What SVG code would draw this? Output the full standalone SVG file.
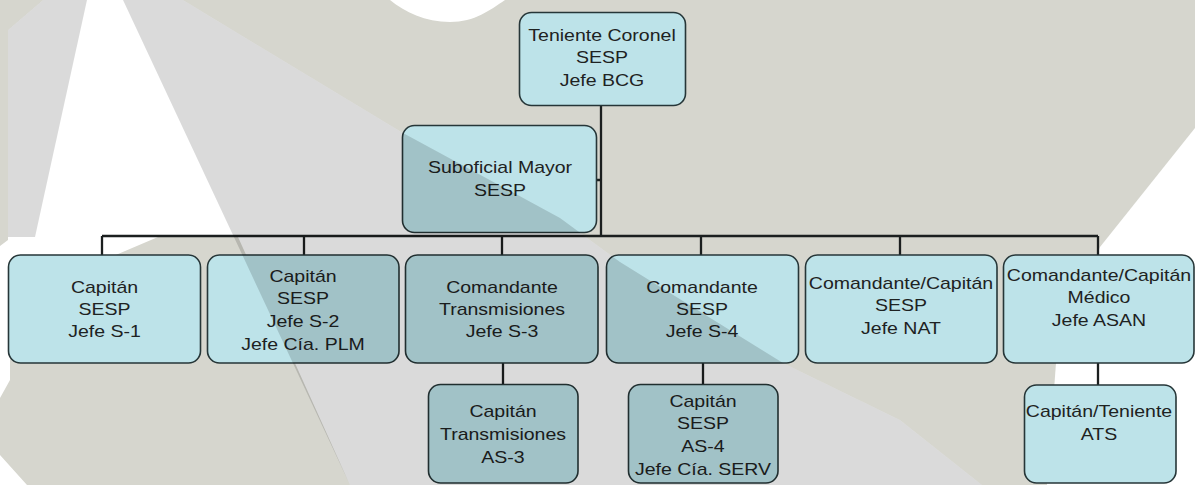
<svg xmlns="http://www.w3.org/2000/svg" width="1195" height="485" viewBox="0 0 1195 485">
<style>
.bx{fill:#bde3e9;stroke:#263638;stroke-width:1.6}
.t{font-family:"Liberation Sans",Arial,sans-serif;font-size:16px;text-anchor:middle;fill:#1e2222}
.cn{fill:none;stroke:#1b1f1f;stroke-width:2.3}
</style>
<g id="background">
<rect x="0" y="0" width="1195" height="485" fill="#d6d6ce"/>
<polygon fill="#ffffff" points="43,0 183,0 403,133 560,218 620,262 783,363 900,420 982,485 0,485 0,246 8,240 8,30"/>
<polygon fill="#d6d6ce" points="158,237 238,237 350,485 27,485 0,455 0,398 10,380 10,300"/>
<path fill="#ffffff" d="M390,0 C405,12 425,22 450,22 C475,22 490,10 505,0 Z"/>
<polygon fill="#ffffff" points="1195,128 1100,247 1056,363 1047,485 1195,485"/>
</g>
<g id="connectors">
<path class="cn" d="M601,105 V236 M597,180 H601 M102,236 H1098 M102,236 V255 M304,236 V255 M502,236 V255 M701,236 V255 M900,236 V255 M1098,236 V255 M503,363 V384 M703,363 V384 M1098,363 V385"/>
</g>
<g id="n-bcg">
<rect class="bx" x="519.5" y="12.5" width="166" height="93" rx="12"/>
<g transform="matrix(1.22 0 0 1 602 0)"><text class="t"><tspan x="0" y="41">Teniente Coronel</tspan><tspan x="0" y="63.5">SESP</tspan><tspan x="0" y="86">Jefe BCG</tspan></text></g>
</g>
<g id="n-suboficial">
<rect class="bx" x="402.5" y="125.5" width="194" height="107" rx="12"/>
<g transform="matrix(1.22 0 0 1 500 0)"><text class="t"><tspan x="0" y="173.5">Suboficial Mayor</tspan><tspan x="0" y="196.5">SESP</tspan></text></g>
</g>
<g id="n-s1">
<rect class="bx" x="8.5" y="255" width="192" height="108" rx="12"/>
<g transform="matrix(1.22 0 0 1 104.5 0)"><text class="t"><tspan x="0" y="293">Capitán</tspan><tspan x="0" y="315">SESP</tspan><tspan x="0" y="337">Jefe S-1</tspan></text></g>
</g>
<g id="n-s2">
<rect class="bx" x="207.5" y="255" width="191.5" height="108" rx="12"/>
<g transform="matrix(1.22 0 0 1 303 0)"><text class="t"><tspan x="0" y="282">Capitán</tspan><tspan x="0" y="304">SESP</tspan><tspan x="0" y="327">Jefe S-2</tspan><tspan x="0" y="350">Jefe Cía. PLM</tspan></text></g>
</g>
<g id="n-s3">
<rect class="bx" x="405.5" y="255" width="192.5" height="108" rx="12"/>
<g transform="matrix(1.22 0 0 1 502 0)"><text class="t"><tspan x="0" y="293">Comandante</tspan><tspan x="0" y="315">Transmisiones</tspan><tspan x="0" y="337">Jefe S-3</tspan></text></g>
</g>
<g id="n-s4">
<rect class="bx" x="606.5" y="255" width="192" height="108" rx="12"/>
<g transform="matrix(1.22 0 0 1 702 0)"><text class="t"><tspan x="0" y="293">Comandante</tspan><tspan x="0" y="315">SESP</tspan><tspan x="0" y="337">Jefe S-4</tspan></text></g>
</g>
<g id="n-nat">
<rect class="bx" x="805.5" y="255" width="191.5" height="108" rx="12"/>
<g transform="matrix(1.22 0 0 1 901 0)"><text class="t"><tspan x="0" y="289">Comandante/Capitán</tspan><tspan x="0" y="311.5">SESP</tspan><tspan x="0" y="334">Jefe NAT</tspan></text></g>
</g>
<g id="n-asan">
<rect class="bx" x="1003.5" y="255" width="190.5" height="108" rx="12"/>
<g transform="matrix(1.22 0 0 1 1099 0)"><text class="t"><tspan x="0" y="281">Comandante/Capitán</tspan><tspan x="0" y="303">Médico</tspan><tspan x="0" y="326">Jefe ASAN</tspan></text></g>
</g>
<g id="n-as3">
<rect class="bx" x="428.5" y="384.5" width="149.5" height="98.5" rx="12"/>
<g transform="matrix(1.22 0 0 1 503 0)"><text class="t"><tspan x="0" y="417.5">Capitán</tspan><tspan x="0" y="440.5">Transmisiones</tspan><tspan x="0" y="463.5">AS-3</tspan></text></g>
</g>
<g id="n-as4">
<rect class="bx" x="628.5" y="384.5" width="149.5" height="98.5" rx="12"/>
<g transform="matrix(1.22 0 0 1 703 0)"><text class="t"><tspan x="0" y="407">Capitán</tspan><tspan x="0" y="429">SESP</tspan><tspan x="0" y="452">AS-4</tspan><tspan x="0" y="475">Jefe Cía. SERV</tspan></text></g>
</g>
<g id="n-ats">
<rect class="bx" x="1024.5" y="385" width="151.5" height="98" rx="12"/>
<g transform="matrix(1.22 0 0 1 1099 0)"><text class="t"><tspan x="0" y="417">Capitán/Teniente</tspan><tspan x="0" y="440">ATS</tspan></text></g>
</g>
<g id="shade" fill="#000000" fill-opacity="0.145">
<polygon points="123,0 183,0 403,133 560,218 620,262 783,363 900,420 982,485 350,485"/>
<polygon points="43,0 87,0 35,237 8,237 8,30"/>
</g>
</svg>
